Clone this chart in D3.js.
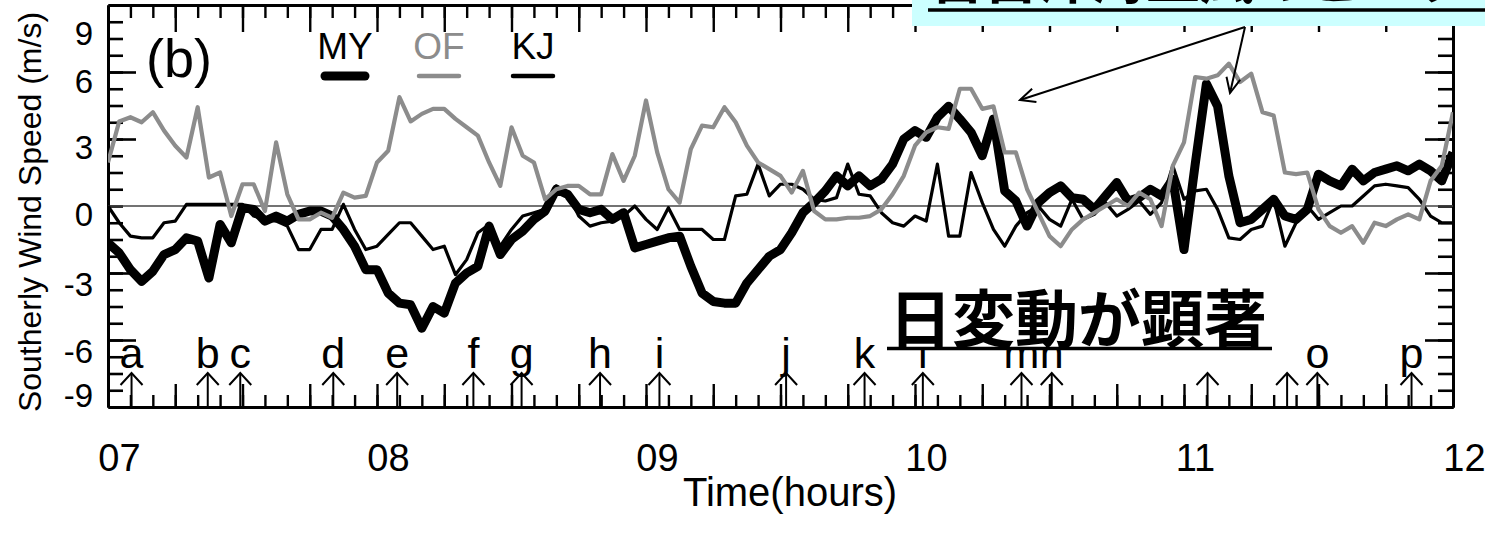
<!DOCTYPE html>
<html>
<head>
<meta charset="utf-8">
<script src="https://cdn.jsdelivr.net/npm/d3@7"></script>
<style>
  body { margin: 0; background: #fff; }
  text { font-family: "Liberation Sans", Arial, sans-serif; }
  .jp { font-family: "Noto Sans CJK JP", sans-serif; font-weight: 700; }
</style>
</head>
<body>
<div id="chart"></div>
<script>

// hourly samples, starting at day 07 00:00
const startDay = 7
const hours = d3.range(0, 121)

const MY = [
  -2.2, -2.8, -3.8, -4.5, -3.9, -2.9, -2.6, -1.9, -2.1, -4.3, -1.1, -2.2,
  -0.1, -0.2, -0.9, -0.6, -0.9, -0.5, -0.3, -0.3, -0.6, -1.4, -2.4, -3.8,
  -3.8, -5.2, -5.8, -5.9, -7.3, -6.0, -6.4, -4.6, -4.0, -3.6, -1.2, -2.9,
  -2.0, -1.5, -0.8, -0.3, 1.0, 0.7, -0.2, -0.4, -0.2, -0.8, -0.4, -2.5,
  -2.3, -2.1, -1.9, -1.8, -3.6, -5.2, -5.7, -5.8, -5.8, -4.6, -3.8, -3.0,
  -2.6, -1.6, -0.4, 0.2, 0.9, 1.8, 1.2, 1.8, 1.2, 1.6, 2.5, 4.0,
  4.5, 4.1, 5.3, 5.95, 5.2, 4.4, 3.0, 5.2, 0.9, 0.3, -1.2, 0.2,
  0.8, 1.2, 0.5, 0.4, -0.2, 0.6, 1.4, 0.3, 0.5, 1.0, 0.6, 1.6,
  -2.6, 2.5, 7.3, 5.95, 1.8, -1.0, -0.8, -0.2, 0.4, -0.6, -0.8, -0.2,
  1.9, 1.5, 1.2, 2.2, 1.5, 2.0, 2.2, 2.4, 2.1, 2.5, 2.1, 1.5,
  3.2
]

const OF = [
  2.6, 5.05, 5.3, 5.0, 5.6, 4.5, 3.6, 2.9, 5.9, 1.7, 2.0, -0.6,
  1.3, 1.3, -0.3, 3.8, 0.7, -0.8, -0.8, -0.4, -0.7, 0.8, 0.5, 0.6,
  2.6, 3.3, 6.5, 5.05, 5.5, 5.8, 5.8, 5.2, 4.7, 4.2, 2.6, 1.2,
  4.7, 3.0, 2.6, 0.4, 1.0, 1.2, 1.2, 0.7, 0.7, 3.1, 1.5, 3.0,
  6.3, 3.2, 1.0, 0.2, 3.4, 4.8, 4.7, 5.9, 5.0, 3.6, 2.6, 2.2,
  1.8, 0.8, 2.1, -0.3, -0.8, -0.8, -0.7, -0.7, -0.6, -0.2, 0.7, 1.8,
  3.6, 4.4, 4.7, 4.6, 7.0, 7.0, 5.8, 5.95, 3.2, 3.2, 1.0, -0.4,
  -1.8, -2.4, -1.4, -0.8, -0.4, 0.0, 0.4, 0.0, 0.8, 0.4, -1.2, 2.4,
  3.8, 7.7, 7.6, 7.8, 8.5, 7.4, 7.9, 5.6, 5.4, 2.0, 1.9, 2.0,
  -0.2, -1.2, -1.6, -1.2, -2.2, -1.0, -1.2, -0.8, -0.5, -0.8, 1.5, 2.4,
  5.6
]

const KJ = [
  0.0, -1.0, -1.8, -1.9, -1.9, -1.0, -0.9, 0.1, 0.1, 0.1, 0.1, 0.1,
  0.1, -0.6, -0.8, -0.9, -1.2, -2.6, -2.6, -1.4, -1.4, 0.1, -1.4, -2.6,
  -2.4, -1.7, -1.0, -1.0, -1.8, -2.6, -2.4, -4.1, -3.2, -1.6, -1.1, -2.4,
  -1.4, -0.6, -0.4, -0.2, 1.2, 0.8, -0.6, -1.2, -1.0, -0.9, -0.6, 0.0,
  -0.8, -1.4, -0.1, -1.4, -1.4, -1.4, -2.0, -2.0, 0.6, 0.7, 2.5, 0.6,
  1.3, 1.3, 1.0, 0.4, 0.3, 0.5, 2.5, 0.7, 0.6, -0.4, -1.0, -1.2,
  -0.6, -0.9, 2.5, -1.8, -1.8, 2.0, 0.2, -1.4, -2.4, -1.2, -0.4, 0.0,
  -0.8, -1.2, 0.4, -0.8, -0.5, 0.2, -0.6, -0.2, 0.3, -0.5, 0.2, 2.4,
  0.4, 0.9, 1.0, -0.2, -1.9, -2.0, -1.4, -1.2, 0.4, -2.4, -1.0, 0.0,
  -0.8, -0.4, 0.0, 0.0, 0.6, 1.2, 1.3, 1.2, 1.1, 0.4, -0.6, -1.0,
  -1.0
]

const dayTicks = [7, 8, 9, 10, 11, 12]
const dayLabels = ["07", "08", "09", "10", "11", "12"]

// the printed y labels do not sit on the tick marks in the original
const yLabels = [9, 6, 3, 0, -3, -6, -9]
const yLabelAt = [10.3, 7.4, 3.45, -0.55, -4.7, -8.7, -11.35]

// marked events (hours after day 07 00:00)
const eventHours = [2.1, 8.9, 11.8, 20.1, 25.8, 32.6, 36.9, 43.9, 49.2, 60.5,
  67.5, 72.7, 81.5, 84.2, 98.1, 105.2, 107.9, 116.3]
const eventNames = ["a", "b", "c", "d", "e", "f", "g", "h", "i", "j",
  "k", "l", "m", "n", "", "", "o", "p"]

const series = [
  {name: "MY", values: MY, color: "#000", width: 9},
  {name: "KJ", values: KJ, color: "#000", width: 3.2},
  {name: "OF", values: OF, color: "#8c8c8c", width: 4.2},
]

// set the dimensions and margins of the graph
const margin = {top: 5, right: 32, bottom: 137, left: 108},
    width = 1485 - margin.left - margin.right,
    height = 544 - margin.top - margin.bottom;

const svg = d3.select("#chart")
  .append("svg")
    .attr("width", 1485)
    .attr("height", 544)

const g = svg.append("g")
    .attr("transform", `translate(${margin.left},${margin.top})`);

const x = d3.scaleLinear()
  .domain([7, 12])
  .range([0, width])

const y = d3.scaleLinear()
  .domain([-12, 12])
  .range([height, 0])

const yLab = d3.scaleLinear()
  .domain(yLabels)
  .range(yLabelAt.map(y))

const minorX = d3.range(1, 60).map(i => 7 + i / 12)
const majorX = d3.range(1, 20).map(i => 7 + i / 4)
const minorY = d3.range(-11, 12)
const majorY = [-8, -4, 4, 8]

function styleAxis(sel, w) {
  sel.select(".domain").attr("stroke", "#000").attr("stroke-width", 3)
  sel.selectAll(".tick line").attr("stroke", "#000").attr("stroke-width", w)
}

// frame + inward ticks
g.append("g").call(d3.axisTop(x).tickValues(minorX).tickSize(-13).tickSizeOuter(0).tickFormat(""))
  .call(styleAxis, 2.4)
g.append("g").call(d3.axisTop(x).tickValues(majorX).tickSize(-27).tickSizeOuter(0).tickFormat(""))
  .call(styleAxis, 2.4)
g.append("g").attr("transform", `translate(0,${height})`)
  .call(d3.axisBottom(x).tickValues(minorX).tickSize(-12).tickSizeOuter(0).tickFormat(""))
  .call(styleAxis, 2.4)
g.append("g").attr("transform", `translate(0,${height})`)
  .call(d3.axisBottom(x).tickValues(majorX).tickSize(-23).tickSizeOuter(0).tickFormat(""))
  .call(styleAxis, 2.4)
g.append("g").call(d3.axisLeft(y).tickValues(minorY).tickSize(-15).tickSizeOuter(0).tickFormat(""))
  .call(styleAxis, 2.6)
g.append("g").call(d3.axisLeft(y).tickValues(majorY).tickSize(-28).tickSizeOuter(0).tickFormat(""))
  .call(styleAxis, 2.6)
g.append("g").attr("transform", `translate(${width},0)`)
  .call(d3.axisRight(y).tickValues(minorY).tickSize(-15).tickSizeOuter(0).tickFormat(""))
  .call(styleAxis, 2.6)
g.append("g").attr("transform", `translate(${width},0)`)
  .call(d3.axisRight(y).tickValues(majorY).tickSize(-28).tickSizeOuter(0).tickFormat(""))
  .call(styleAxis, 2.6)

// labels
const xLab = g.append("g").attr("transform", `translate(0,${height})`)
  .call(d3.axisBottom(x).tickValues(dayTicks).tickFormat((d, i) => dayLabels[i]).tickSize(0).tickPadding(37))
xLab.select(".domain").remove()
xLab.selectAll("text")
  .attr("font-size", 38)
  .attr("dx", 11)
  .attr("font-family", "Liberation Sans Narrow, Liberation Sans, Arial, sans-serif")
  .attr("fill", "#000")

const yAx = g.append("g")
  .call(d3.axisLeft(yLab).tickValues(yLabels).tickSize(0).tickPadding(15).tickFormat(d => String(d)))
yAx.select(".domain").remove()
yAx.selectAll("text")
  .attr("font-size", 33)
  .attr("font-family", "Liberation Sans, Arial, sans-serif")
  .attr("fill", "#000")

svg.append("text")
  .attr("x", 790).attr("y", 506)
  .attr("text-anchor", "middle")
  .attr("font-size", 40)
  .text("Time(hours)")

svg.append("text")
  .attr("transform", "translate(41,212) rotate(-90)")
  .attr("text-anchor", "middle")
  .attr("font-size", 32)
  .text("Southerly Wind Speed (m/s)")

// zero line
g.append("line")
  .attr("x1", 0).attr("x2", width)
  .attr("y1", y(0)).attr("y2", y(0))
  .attr("stroke", "#444").attr("stroke-width", 1.6)

g.append("clipPath").attr("id", "clip")
  .append("rect").attr("width", width).attr("height", height)

const line = d3.line()
  .x((d, i) => x(startDay + hours[i] / 24))
  .y(d => y(d))

g.append("g").attr("clip-path", "url(#clip)")
  .selectAll("path")
  .data(series)
  .join("path")
    .attr("d", d => line(d.values))
    .attr("fill", "none")
    .attr("stroke", d => d.color)
    .attr("stroke-width", d => d.width)
    .attr("stroke-linejoin", "round")

// event arrows along the bottom
const ev = g.append("g")
  .selectAll("g")
  .data(eventHours)
  .join("g")
    .attr("transform", d => `translate(${x(startDay + d / 24)},${height})`)
ev.append("line")
  .attr("y1", 0).attr("y2", -34)
  .attr("stroke", "#000").attr("stroke-width", 2)
ev.append("path")
  .attr("d", "M-11,-22 L0,-34 L11,-22")
  .attr("fill", "none").attr("stroke", "#000").attr("stroke-width", 2)
ev.append("text")
  .attr("y", -39)
  .attr("text-anchor", "middle")
  .attr("font-size", 43)
  .text((d, i) => eventNames[i])

// panel tag and legend
svg.append("text").attr("x", 146).attr("y", 77).attr("font-size", 54).text("(b)")

const legend = [
  {name: "MY", cx: 345, color: "#000", width: 9},
  {name: "OF", cx: 439, color: "#8c8c8c", width: 4.5},
  {name: "KJ", cx: 533, color: "#000", width: 4.5},
]
const lg = svg.append("g").selectAll("g").data(legend).join("g")
lg.append("text")
  .attr("x", d => d.cx).attr("y", 59)
  .attr("text-anchor", "middle")
  .attr("font-size", 37)
  .attr("fill", d => d.color)
  .text(d => d.name)
lg.append("line")
  .attr("x1", d => d.cx - 20).attr("x2", d => d.cx + 20)
  .attr("y1", 76).attr("y2", 76)
  .attr("stroke", d => d.color)
  .attr("stroke-width", d => d.width)
  .attr("stroke-linecap", "round")

// annotation: diurnal variation
svg.append("rect")
  .attr("x", 885).attr("y", 284).attr("width", 392).attr("height", 64)
  .attr("fill", "#fff")
svg.append("text")
  .attr("class", "jp")
  .attr("x", 889).attr("y", 342)
  .attr("font-size", 63)
  .text("日変動が顕著")
svg.append("line")
  .attr("x1", 887).attr("x2", 1272)
  .attr("y1", 348.5).attr("y2", 348.5)
  .attr("stroke", "#000").attr("stroke-width", 3.5)

// annotation box at the top right
svg.append("rect")
  .attr("x", 912).attr("y", 0).attr("width", 573).attr("height", 26)
  .attr("fill", "#ccffff")
svg.append("text")
  .attr("class", "jp")
  .attr("x", 930).attr("y", -1)
  .attr("font-size", 54)
  .text("宮古沖海上風のピーク")
svg.append("line")
  .attr("x1", 928).attr("x2", 1485)
  .attr("y1", 10).attr("y2", 10)
  .attr("stroke", "#000").attr("stroke-width", 3.5)

svg.append("defs").append("marker")
  .attr("id", "open")
  .attr("viewBox", "-16 -8 18 16")
  .attr("refX", 0).attr("refY", 0)
  .attr("markerWidth", 18).attr("markerHeight", 16)
  .attr("markerUnits", "userSpaceOnUse")
  .attr("orient", "auto")
  .append("path")
    .attr("d", "M-15,-7 L0,0 L-15,7")
    .attr("fill", "none").attr("stroke", "#000").attr("stroke-width", 2)

const pointers = [[1020, 100], [1230, 93]]
svg.append("g").selectAll("line").data(pointers).join("line")
  .attr("x1", 1245).attr("y1", 27)
  .attr("x2", d => d[0]).attr("y2", d => d[1])
  .attr("stroke", "#000").attr("stroke-width", 2)
  .attr("marker-end", "url(#open)")

</script>
</body>
</html>
